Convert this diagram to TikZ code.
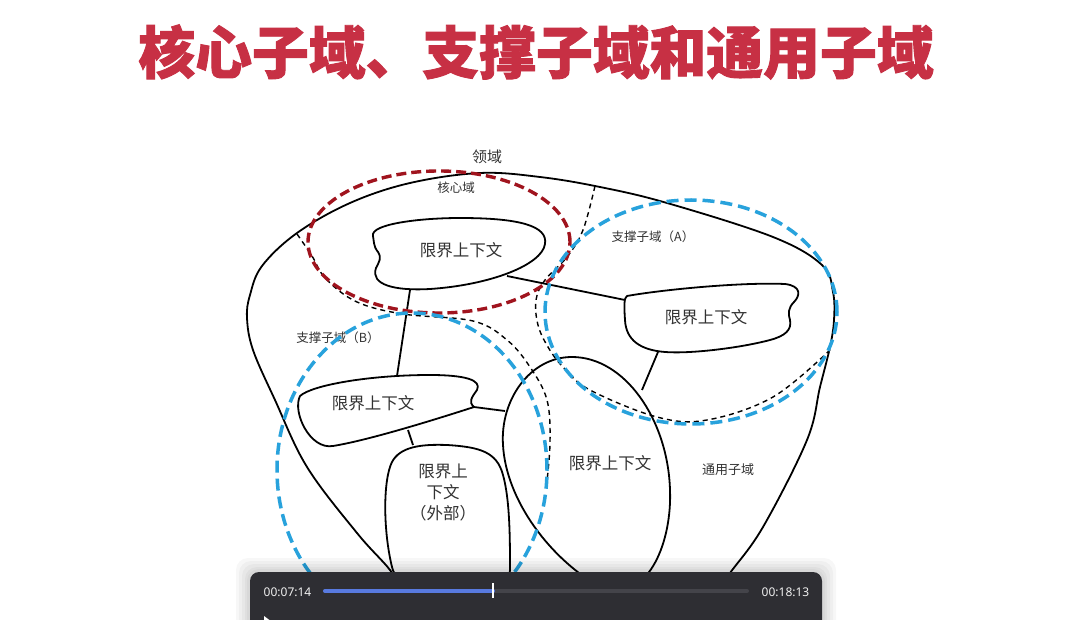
\documentclass[tikz,border=0pt]{standalone}
\usepackage{fontspec}
\newfontfamily\cjk{Noto Sans CJK SC}
\newfontfamily\cjkheavy{Noto Sans CJK SC}[BoldFeatures={FakeBold=1.6}]
\newfontfamily\uisans{Noto Sans}
\usetikzlibrary{calc}
\definecolor{titlered}{RGB}{199,48,68}
\definecolor{corered}{RGB}{160,20,30}
\definecolor{subblue}{RGB}{40,162,220}
\definecolor{txtgrey}{RGB}{50,50,50}
\definecolor{bardark}{RGB}{46,46,51}
\definecolor{bartrack}{RGB}{68,68,74}
\definecolor{barblue}{RGB}{88,122,224}
\tikzset{
  outline/.style={line width=1.8pt, black, line join=round},
  bctx/.style={line width=1.8pt, black, line join=round},
  conn/.style={line width=1.8pt, black},
  subdash/.style={line width=1.4pt, black, dash pattern=on 5pt off 4pt},
  reddash/.style={line width=3.4pt, corered, dash pattern=on 10pt off 5pt},
  bluedash/.style={line width=3.5pt, subblue, dash pattern=on 12pt off 6pt},
  bctext/.style={font=\cjk\fontsize{16.5}{21}\selectfont, text=txtgrey, inner sep=0pt, align=center},
  smalltext/.style={font=\cjk\fontsize{12.5}{15}\selectfont, text=txtgrey, inner sep=0pt},
  timetext/.style={font=\uisans\fontsize{12}{14}\selectfont, text=white!94!black, inner sep=0pt}
}
\begin{document}
\begin{tikzpicture}[x=1pt,y=-1pt]
\useasboundingbox (0,0) rectangle (1088,620);
\clip (0,0) rectangle (1088,620);
\fill[white] (0,0) rectangle (1088,620);

% title
\node[font=\cjkheavy\bfseries\fontsize{56.8}{60}\selectfont, text=titlered, inner sep=0pt] (title) at (536,52) {核心子域、支撑子域和通用子域};

% outer domain
\draw[outline] plot[smooth, tension=0.6] coordinates {(402,592) (390,570) (357,533) (307,467) (275,400) (253,350) (247,318) (250,295) (262,266) (297,233) (350,203) (410,183) (480,173) (540,177) (600,187) (667,203) (773,237) (822,265) (833,292) (834,320) (830,347) (820,387) (807,440) (763,527) (730,573) (712,598)};
\node[font=\cjk\fontsize{15}{18}\selectfont, text=txtgrey, inner sep=0pt] (domain) at (487,157) {领域};

% bounded contexts
\draw[bctx] (373,236) .. controls (370,224) and (420,218) .. (460,218) .. controls (520,218) and (548,226) .. (545,244) .. controls (542,265) and (490,285) .. (430,289) .. controls (395,291) and (370,285) .. (376,268) .. controls (379,262) and (382,258) .. (378,252) .. controls (373,246) and (374,240) .. cycle;
\draw[bctx] (627,296) .. controls (660,290) and (740,282) .. (785,284) .. controls (802,286) and (800,296) .. (794,302) .. controls (788,308) and (788,314) .. (790,320) .. controls (792,330) and (785,336) .. (770,340) .. controls (740,348) and (690,354) .. (665,352) .. controls (640,350) and (626,340) .. (625,320) .. controls (624,305) and (624,298) .. cycle;
\draw[bctx] (300,396) .. controls (312,385) and (370,375) .. (430,375) .. controls (465,375) and (482,380) .. (477,390) .. controls (472,397) and (468,402) .. (474,407) .. controls (440,418) and (370,440) .. (333,446) .. controls (310,450) and (292,412) .. cycle;
\draw[bctx] (392,567) .. controls (383,530) and (383,480) .. (392,462) .. controls (400,447) and (420,444) .. (447,445) .. controls (480,447) and (497,452) .. (503,475) .. controls (510,500) and (510,540) .. (510,570) .. controls (510,600) and (400,605) .. cycle;
\draw[bctx] (572,357) .. controls (530,357) and (500,400) .. (503,445) .. controls (506,500) and (550,560) .. (605,590) .. controls (650,600) and (672,540) .. (670,490) .. controls (668,420) and (625,357) .. cycle;

\node[bctext] (bc1) at (461,250) {限界上下文};
\node[bctext] (bc2) at (706,317) {限界上下文};
\node[bctext] (bc3) at (373,403) {限界上下文};
\node[bctext] (bc4) at (443,492) {限界上\\下文\\（外部）};
\node[bctext] (bc5) at (610,463) {限界上下文};

% connectors
\coordinate (c1b) at (410,290); \coordinate (c3t) at (397,376);
\coordinate (c1r) at (507,276); \coordinate (c2l) at (625,300);
\coordinate (c2b) at (658,352); \coordinate (c5t) at (642,390);
\coordinate (c3r) at (474,407); \coordinate (c5l) at (505,411);
\coordinate (c3b) at (408,430); \coordinate (c4t) at (413,445);
\draw[conn] (c1b) -- (c3t);
\draw[conn] (c1r) -- (c2l);
\draw[conn] (c2b) -- (c5t);
\draw[conn] (c3r) -- (c5l);
\draw[conn] (c3b) -- (c4t);

% subdomain boundaries
\draw[subdash] plot[smooth, tension=0.6] coordinates {(297,234) (312,256) (326,279) (357,302) (403,314) (473,321) (507,340) (530,367) (547,400) (550,443) (546,490)};
\draw[subdash] plot[smooth, tension=0.6] coordinates {(595,186) (583,230) (567,257) (545,280) (536,300) (538,325) (548,347) (563,367) (590,390) (657,417) (707,420) (773,397) (830,350)};

\node[smalltext] (core) at (456,188) {核心域};
\node[smalltext] (supa) at (653,237) {支撑子域（A）};
\node[smalltext] (supb) at (338,338) {支撑子域（B）};
\node[font=\cjk\fontsize{13}{15}\selectfont, text=txtgrey, inner sep=0pt] (gen) at (728,470) {通用子域};

% annotation ellipses
\draw[reddash] (439,242) ellipse [x radius=131pt, y radius=71pt];
\draw[bluedash] (691,312) ellipse [x radius=146pt, y radius=112pt];
\draw[bluedash] (412,470) ellipse [x radius=135pt, y radius=157pt];

% video bar with shadow
\foreach \s in {14,11,8,5,3}{
  \fill[black, opacity=0.03, rounded corners=12pt] (250-\s,572-\s) rectangle (822+\s,660);
}
\fill[bardark, rounded corners=9pt] (250,572) rectangle (822,660);
\node[timetext] (tstart) at (287.5,592) {00:07:14};
\node[timetext] (tend) at (785.5,592) {00:18:13};
\coordinate (pbl) at (325,591); \coordinate (pbm) at (493,591); \coordinate (pbr) at (747,591);
\draw[bartrack, line width=4pt, line cap=round] (pbl) -- (pbr);
\draw[barblue, line width=4pt, line cap=round] (pbl) -- (pbm);
\coordinate (thtop) at (493,583); \coordinate (thbot) at (493,598);
\draw[white, line width=2pt] (thtop) -- (thbot);
\fill[white] (264,616) -- (272,622) -- (264,628) -- cycle;
\end{tikzpicture}
\end{document}
